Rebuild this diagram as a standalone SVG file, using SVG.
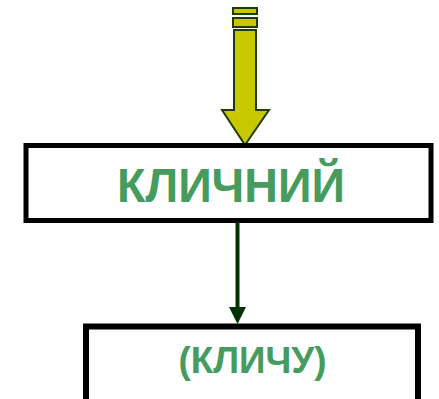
<svg xmlns="http://www.w3.org/2000/svg" width="439" height="399" viewBox="0 0 439 399">
<style>
.box{fill:#fff;stroke:#000}
.lbl{font-family:"Liberation Sans",Arial,sans-serif;font-weight:bold;fill:#469b5e;text-anchor:middle}
.arr{fill:#c8c800;stroke:#1f3d00;stroke-width:2}
</style>
<g id="striped-arrow">
<rect class="arr" x="233" y="8" width="24" height="6"/>
<rect class="arr" x="233" y="18" width="24" height="9"/>
<path class="arr" d="M234,30 H256 V110 H269 L245,145 L222,110 H234 Z"/>
</g>
<g id="node-klychnyi">
<rect class="box" x="26" y="145.5" width="405" height="75" stroke-width="5"/>
<text class="lbl" x="231" y="202" font-size="48" textLength="228" lengthAdjust="spacingAndGlyphs">КЛИЧНИЙ</text>
</g>
<g id="node-klychu">
<rect class="box" x="86" y="326.5" width="332" height="110" stroke-width="6"/>
<text class="lbl" x="252.5" y="373" font-size="36" textLength="148" lengthAdjust="spacingAndGlyphs">(КЛИЧУ)</text>
</g>
<g id="connectors">
<line x1="237.5" y1="222" x2="237.5" y2="308" stroke="#003300" stroke-width="4"/>
<path d="M229,307 L246,307 L237.5,324 Z" fill="#003300"/>
</g>
</svg>
